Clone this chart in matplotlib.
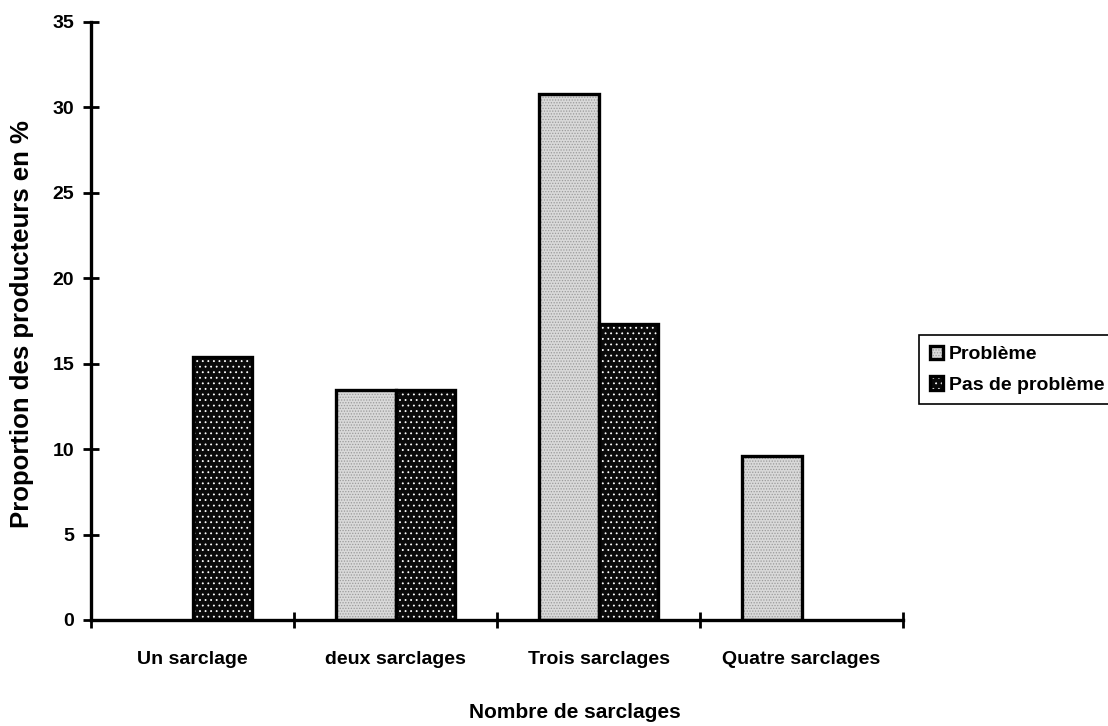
import matplotlib
matplotlib.use('Agg')
import matplotlib.pyplot as plt
from matplotlib.legend_handler import HandlerTuple
import numpy as np

# weeding frequency vs share of producers (%)
categories = ['Un sarclage', 'deux sarclages', 'Trois sarclages', 'Quatre sarclages']
probleme = [0.0, 13.46, 30.77, 9.62]
pas_probleme = [15.38, 13.46, 17.31, 0.0]
series_names = ['Problème', 'Pas de problème']
yticks = [0, 5, 10, 15, 20, 25, 30, 35]

plt.rcParams['font.family'] = ['Liberation Sans', 'DejaVu Sans']
plt.rcParams['font.weight'] = 'bold'
plt.rcParams['font.size'] = 14
plt.rcParams['hatch.linewidth'] = 0.6

W, H = 1108, 726
fig = plt.figure(figsize=(W / 100, H / 100), dpi=100)
ax = fig.add_axes([91 / W, 1 - 620 / H, (903 - 91) / W, (620 - 22) / H])

x = np.arange(len(categories))
bw = 0.295

##################################################################
# bars: texture layer first, then a black outline on top
##################################################################
b1 = ax.bar(x - bw / 2, probleme, bw, color='#d9d9d9', edgecolor='#9a9a9a',
            hatch='......', lw=0, zorder=2)
b2 = ax.bar(x + bw / 2, pas_probleme, bw, color='#0a0a0a', edgecolor='white',
            hatch='...', lw=0, zorder=2)
o1 = ax.bar(x - bw / 2, probleme, bw, fill=False, edgecolor='black', lw=2.4, zorder=3)
o2 = ax.bar(x + bw / 2, pas_probleme, bw, fill=False, edgecolor='black', lw=2.4, zorder=3)
# hide outlines of empty bars
for bars, vals in ((o1, probleme), (o2, pas_probleme)):
    for r, v in zip(bars, vals):
        if v == 0:
            r.set_visible(False)

##################################################################
# axes styling
##################################################################
ax.set_xlim(-0.5, len(categories) - 0.5)
ax.set_ylim(0, 35)
ax.set_yticks(yticks)
ax.set_xticks(np.arange(len(categories) + 1) - 0.5)
ax.set_xticklabels([])
ax.set_xticks(x, minor=True)
ax.set_xticklabels(categories, minor=True)
ax.tick_params(axis='x', which='minor', length=0, pad=22)
ax.tick_params(axis='both', which='major', direction='inout', length=12,
               width=2, pad=6)
for s in ('top', 'right'):
    ax.spines[s].set_visible(False)
for s in ('left', 'bottom'):
    ax.spines[s].set_linewidth(2.4)

fig.text(575 / W, 1 - 713 / H, 'Nombre de sarclages', ha='center', va='center',
         fontsize=15)
fig.text(22 / W, 1 - 324 / H, 'Proportion des producteurs en %', rotation=90,
         ha='center', va='center', fontsize=18.5)

leg = fig.legend([(b1[0], o1[1]), (b2[0], o2[0])], series_names,
                 handler_map={tuple: HandlerTuple(ndivide=1)},
                 loc='upper left', bbox_to_anchor=(919 / W, 1 - 335 / H),
                 frameon=True, fancybox=False, framealpha=1, edgecolor='black',
                 handlelength=0.7, handleheight=0.7, handletextpad=0.3,
                 labelspacing=0.65, borderpad=0.55, borderaxespad=0)
leg.get_frame().set_linewidth(1.2)

fig.savefig('out.png', dpi=100)
